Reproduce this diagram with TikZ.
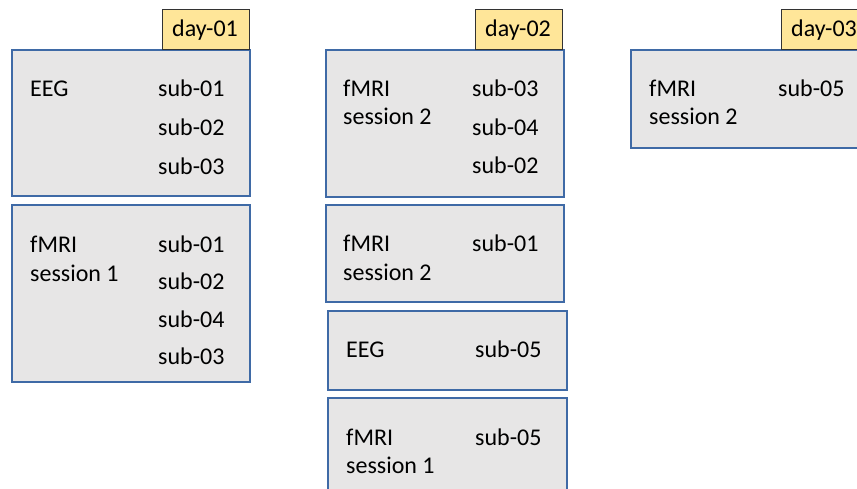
\documentclass[tikz,border=0pt]{standalone}
\usepackage{fontspec}
\setmainfont{Carlito}
\definecolor{boxfill}{HTML}{E7E6E6}
\definecolor{boxline}{HTML}{3F6AA6}
\definecolor{tagfill}{HTML}{FFE699}
\definecolor{tagline}{HTML}{333333}
\begin{document}
\begin{tikzpicture}[x=1pt,y=-1pt,
  panel/.style={draw=boxline, fill=boxfill, line width=1.6pt, rectangle, anchor=north west, inner sep=0pt},
  daytag/.style={draw=tagline, fill=tagfill, line width=1.2pt, rectangle, anchor=north west, inner sep=0pt, minimum width=87pt, minimum height=40pt},
  lbl/.style={anchor=base west, inner sep=0pt, font=\fontsize{24}{29}\selectfont, text=black}]
\useasboundingbox (0,0) rectangle (857,489);
\clip (0,0) rectangle (857,489);
% column 1
\node[panel, minimum width=238pt, minimum height=146pt] (p1) at (11,49) {};
\node[daytag] (t1) at (162,9) {};
\node[lbl] (d1) at (172,37) {day-01};
\node[lbl] (p1a) at (30,97) {EEG};
\node[lbl] (p1b) at (158,97) {sub-01};
\node[lbl] (p1c) at (158,136) {sub-02};
\node[lbl] (p1d) at (158,175) {sub-03};
\node[panel, minimum width=238pt, minimum height=177pt] (p2) at (11,204) {};
\node[lbl] (p2a) at (30,253) {fMRI};
\node[lbl] (p2b) at (30,281) {session 1};
\node[lbl] (p2c) at (158,253) {sub-01};
\node[lbl] (p2d) at (158,290) {sub-02};
\node[lbl] (p2e) at (158,327) {sub-04};
\node[lbl] (p2f) at (158,364) {sub-03};
% column 2
\node[panel, minimum width=238pt, minimum height=147pt] (p3) at (325,49) {};
\node[daytag] (t2) at (475,9) {};
\node[lbl] (d2) at (485,37) {day-02};
\node[lbl] (p3a) at (343,97) {fMRI};
\node[lbl] (p3b) at (343,125) {session 2};
\node[lbl] (p3c) at (472,97) {sub-03};
\node[lbl] (p3d) at (472,136) {sub-04};
\node[lbl] (p3e) at (472,174) {sub-02};
\node[panel, minimum width=238pt, minimum height=97pt] (p4) at (325,204) {};
\node[lbl] (p4a) at (343,252) {fMRI};
\node[lbl] (p4b) at (343,280) {session 2};
\node[lbl] (p4c) at (472,252) {sub-01};
\node[panel, minimum width=239pt, minimum height=79pt] (p5) at (327,310) {};
\node[lbl] (p5a) at (346,357) {EEG};
\node[lbl] (p5b) at (475,357) {sub-05};
\node[panel, minimum width=239pt, minimum height=100pt] (p6) at (327,397) {};
\node[lbl] (p6a) at (346,445) {fMRI};
\node[lbl] (p6b) at (346,473) {session 1};
\node[lbl] (p6c) at (475,445) {sub-05};
% column 3
\node[panel, minimum width=239pt, minimum height=98pt] (p7) at (630,49) {};
\node[daytag] (t3) at (781,9) {};
\node[lbl] (d3) at (791,37) {day-03};
\node[lbl] (p7a) at (649,97) {fMRI};
\node[lbl] (p7b) at (649,125) {session 2};
\node[lbl] (p7c) at (778,97) {sub-05};
\end{tikzpicture}
\end{document}
